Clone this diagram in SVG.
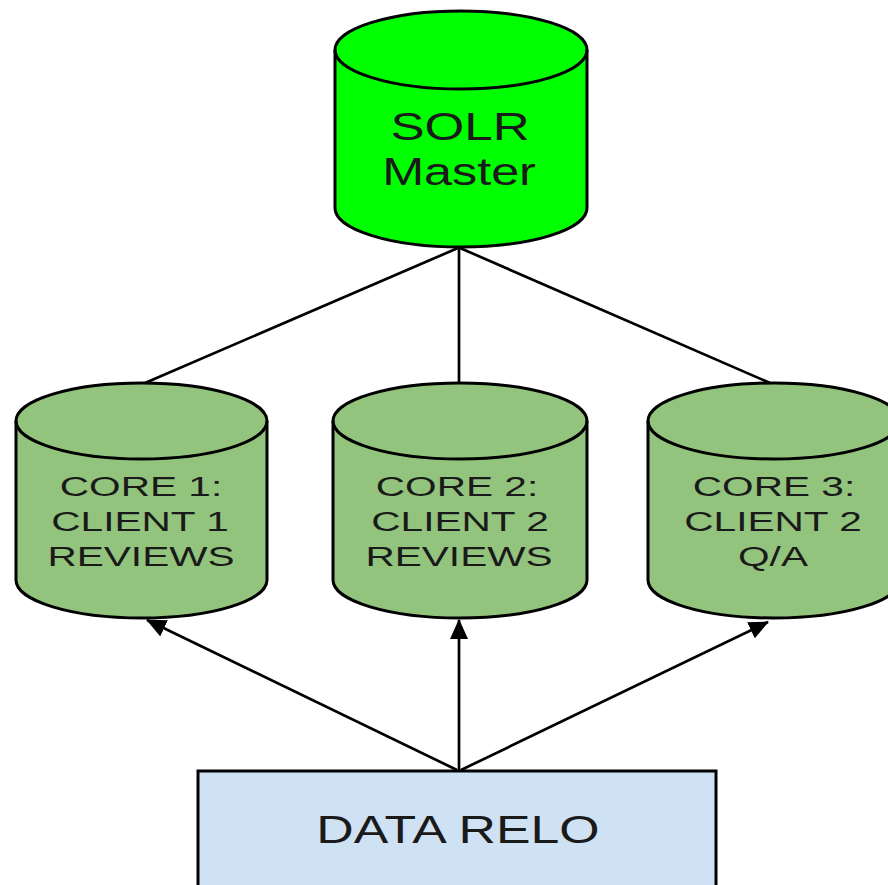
<svg xmlns="http://www.w3.org/2000/svg" width="888" height="885" viewBox="0 0 888 885">
<style>
.cyl{stroke:#000;stroke-width:3;stroke-linejoin:round}
.rim{fill:none;stroke:#000;stroke-width:3}
.t{font-family:"Liberation Sans",Arial,sans-serif;fill:#1a1a1a;text-anchor:middle}
.c{font-size:28px}
.big{font-size:39px}
.ln{stroke:#000;stroke-width:2.7;fill:none}
</style>
<defs>
<marker id="ah" markerUnits="userSpaceOnUse" markerWidth="22" markerHeight="20" refX="19" refY="9" orient="auto">
<path d="M0,0 L20,9 L0,18 Z" fill="#000"/>
</marker>
</defs>
<rect width="888" height="885" fill="#fff"/>
<g id="connectors">
<line class="ln" x1="458" y1="248" x2="145" y2="383"/>
<line class="ln" x1="459" y1="248" x2="459" y2="383"/>
<line class="ln" x1="460" y1="248" x2="770" y2="383"/>
<line class="ln" x1="457" y1="770" x2="147" y2="620" marker-end="url(#ah)"/>
<line class="ln" x1="459" y1="770" x2="459" y2="620" marker-end="url(#ah)"/>
<line class="ln" x1="461" y1="770" x2="768" y2="622" marker-end="url(#ah)"/>
</g>
<g id="solr-master">
<path class="cyl" fill="#00ff00" d="M335,50 A126,39 0 0 1 587,50 L587,208 A126,39 0 0 1 335,208 Z"/>
<path class="rim" d="M335,50 A126,39 0 0 0 587,50"/>
<text class="t big" transform="translate(460,140) scale(1.31,1)">SOLR</text>
<text class="t big" transform="translate(459,185) scale(1.29,1)">Master</text>
</g>
<g id="core1">
<path class="cyl" fill="#93c47d" d="M16,421 A125.5,38 0 0 1 267,421 L267,580 A125.5,38 0 0 1 16,580 Z"/>
<path class="rim" d="M16,421 A125.5,38 0 0 0 267,421"/>
<text class="t c" transform="translate(141,496) scale(1.45,1)">CORE 1:</text>
<text class="t c" transform="translate(140,531) scale(1.45,1)">CLIENT 1</text>
<text class="t c" transform="translate(141,566) scale(1.45,1)">REVIEWS</text>
</g>
<g id="core2">
<path class="cyl" fill="#93c47d" d="M333,421 A127,38 0 0 1 587,421 L587,580 A127,38 0 0 1 333,580 Z"/>
<path class="rim" d="M333,421 A127,38 0 0 0 587,421"/>
<text class="t c" transform="translate(457,496) scale(1.45,1)">CORE 2:</text>
<text class="t c" transform="translate(460,531) scale(1.45,1)">CLIENT 2</text>
<text class="t c" transform="translate(459,566) scale(1.45,1)">REVIEWS</text>
</g>
<g id="core3">
<path class="cyl" fill="#93c47d" d="M648,421 A126,38 0 0 1 900,421 L900,580 A126,38 0 0 1 648,580 Z"/>
<path class="rim" d="M648,421 A126,38 0 0 0 900,421"/>
<text class="t c" transform="translate(774,496) scale(1.45,1)">CORE 3:</text>
<text class="t c" transform="translate(773,531) scale(1.45,1)">CLIENT 2</text>
<text class="t c" transform="translate(773,566) scale(1.45,1)">Q/A</text>
</g>
<g id="data-relo">
<rect x="198" y="771" width="518" height="130" fill="#cfe2f3" stroke="#000" stroke-width="3"/>
<text class="t big" transform="translate(458,843) scale(1.33,1)">DATA RELO</text>
</g>
</svg>
